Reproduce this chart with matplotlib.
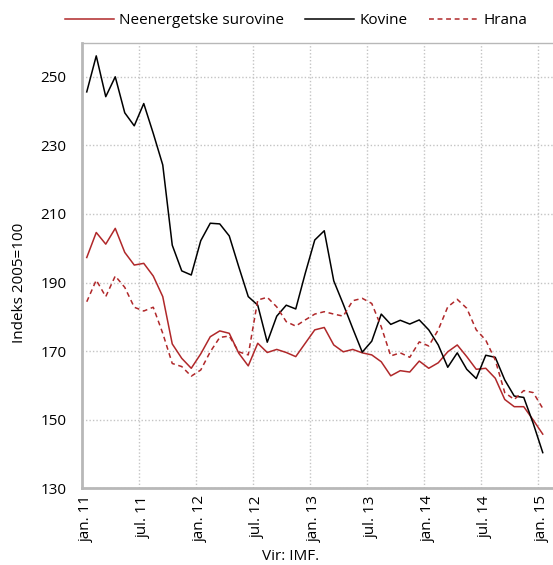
import matplotlib
matplotlib.use("Agg")
import matplotlib.pyplot as plt
from matplotlib.lines import Line2D

plt.rcParams['font.family'] = ['Open Sans', 'DejaVu Sans']

# monthly values, jan 2011 - jan 2015 (index 2005=100)
tick_labels = ['jan. 11', 'jul. 11', 'jan. 12', 'jul. 12', 'jan. 13',
               'jul. 13', 'jan. 14', 'jul. 14', 'jan. 15']

neenergetske = [197.3, 204.6, 201.2, 205.8, 198.8, 195.1, 195.6, 191.9, 185.9,
                172.1, 167.9, 165.0, 169.2, 174.2, 175.9, 175.2, 169.4, 165.7,
                172.3, 169.6, 170.5, 169.6, 168.4, 172.3, 176.2, 176.9, 171.8,
                169.8, 170.5, 169.5, 168.9, 166.9, 162.8, 164.3, 163.9, 167.1,
                165.0, 166.6, 169.8, 171.8, 168.4, 164.7, 165.0, 162.1, 155.9,
                153.8, 153.8, 149.9, 145.8]

kovine = [245.6, 256.1, 244.2, 250.0, 239.5, 235.7, 242.2, 233.5, 224.3,
          200.9, 193.4, 192.2, 202.2, 207.3, 207.1, 203.6, 194.6, 185.9,
          183.4, 172.6, 180.2, 183.4, 182.3, 192.7, 202.4, 205.1, 190.5,
          183.7, 176.6, 169.7, 172.9, 180.8, 177.8, 179.0, 177.9, 179.1,
          176.2, 171.8, 165.3, 169.5, 164.7, 162.0, 168.8, 168.2, 161.6,
          156.9, 156.5, 148.9, 140.4]

hrana = [184.4, 190.7, 185.9, 191.9, 188.6, 182.8, 181.7, 182.8, 175.2,
         166.4, 165.5, 162.7, 164.5, 169.8, 174.0, 174.4, 169.8, 168.9,
         184.9, 185.7, 182.9, 178.6, 177.3, 179.1, 180.8, 181.5, 180.8,
         180.2, 184.7, 185.4, 183.9, 177.1, 168.6, 169.5, 168.2, 172.7,
         171.5, 176.2, 182.9, 185.1, 182.5, 176.2, 173.2, 167.4, 157.9,
         155.9, 158.5, 157.9, 153.3]

RED = '#b0282a'
GRID = '#c4c4c4'
SPINE = '#b8b8b8'

x = list(range(len(kovine)))

fig = plt.figure(figsize=(5.53, 5.65), dpi=100)
ax = fig.add_axes([82/553, 1-488.3/565, 1-82/553, (488.3-42.5)/565])

ax.plot(x, neenergetske, color=RED, lw=1.1, label='Neenergetske surovine')
ax.plot(x, kovine, color='black', lw=1.1, label='Kovine')
ax.plot(x, hrana, color=RED, lw=1.1, linestyle=(0, (3.2, 2.4)), label='Hrana')

ax.set_ylim(130, 260)
ax.set_yticks(range(130, 251, 20))
ax.set_xlim(-0.5, -0.5 + (553-82)/9.5)
ax.set_xticks(range(0, 49, 6))
ax.set_xticklabels(tick_labels, rotation=90)
ax.set_xticks([i - 0.5 for i in range(6, 49, 6)], minor=True)

ax.tick_params(axis='both', which='both', length=0, labelsize=11)
ax.tick_params(axis='y', pad=11)
ax.tick_params(axis='x', pad=5)

ax.grid(False)
ax.yaxis.grid(True, color=GRID, linestyle=(0, (1, 1.5)), lw=1.0)
ax.xaxis.grid(True, which='minor', color=GRID, linestyle=(0, (1, 1.5)), lw=1.0)
ax.set_axisbelow(True)

for side in ['left', 'bottom']:
    ax.spines[side].set_color(SPINE)
    ax.spines[side].set_linewidth(2)
ax.spines['top'].set_color(SPINE)
ax.spines['top'].set_linewidth(1)
ax.spines['right'].set_visible(False)

fig.text(20/553, 1-283/565, 'Indeks 2005=100', rotation=90,
         ha='center', va='center', fontsize=11)
fig.text(291/553, 1-557/565, 'Vir: IMF.', ha='center', va='center', fontsize=11)

handles = [Line2D([], [], color=RED, lw=1.1),
           Line2D([], [], color='black', lw=1.1),
           Line2D([], [], color=RED, lw=1.1, linestyle=(0, (3.2, 2.4)))]
fig.legend(handles, ['Neenergetske surovine', 'Kovine', 'Hrana'],
           loc='center', bbox_to_anchor=(296/553, 1-21/565), ncol=3,
           frameon=False, fontsize=11, handlelength=3.2, handletextpad=0.35,
           columnspacing=1.4, borderpad=0)

fig.savefig('out.png', dpi=100)
